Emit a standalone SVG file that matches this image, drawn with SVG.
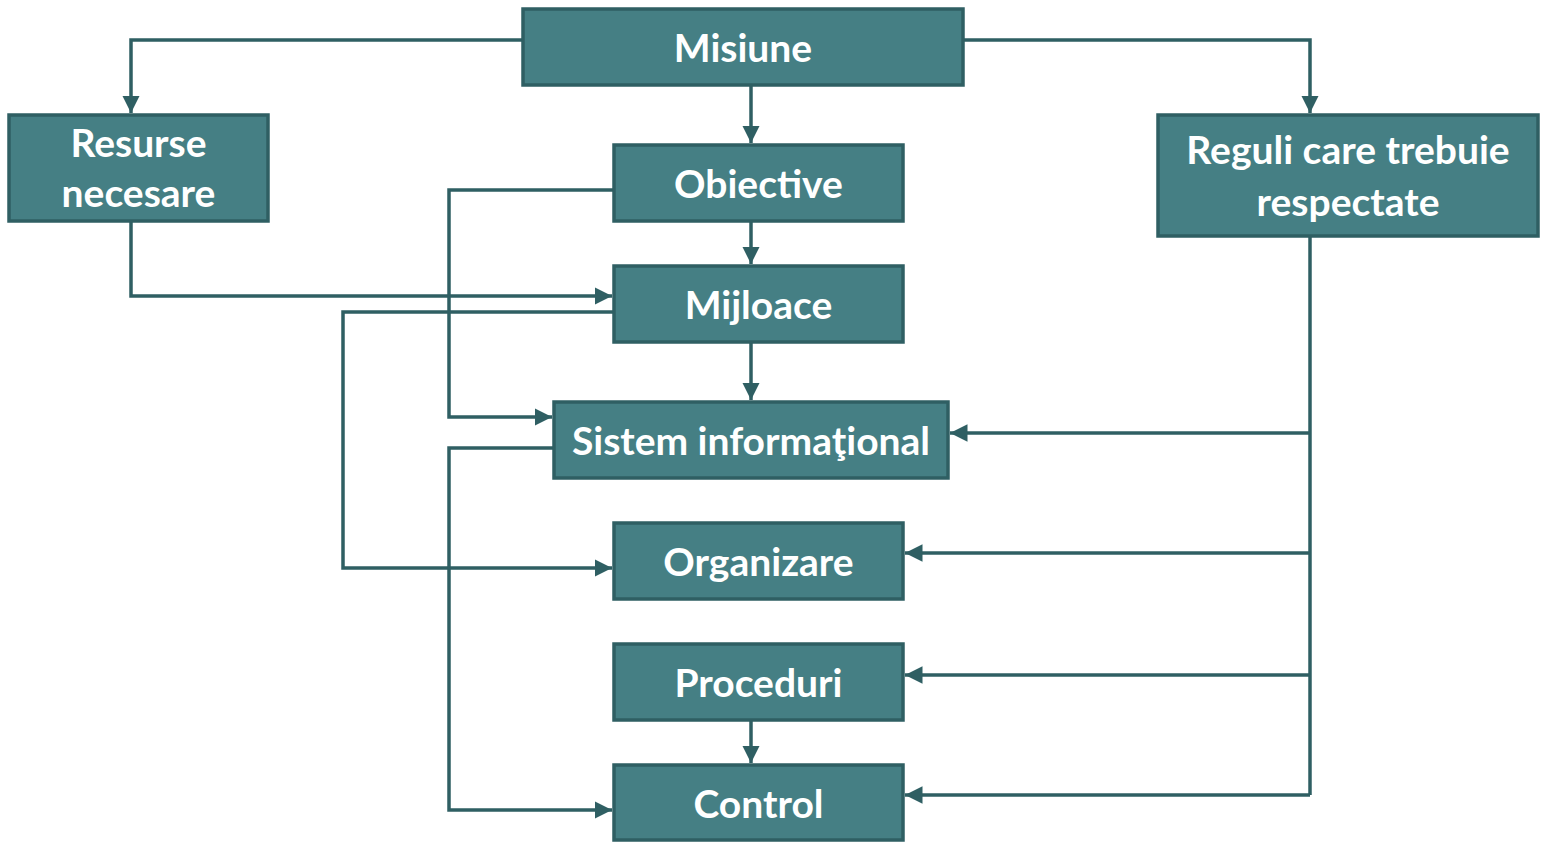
<svg xmlns="http://www.w3.org/2000/svg" width="1544" height="842" viewBox="0 0 1544 842">
<defs>
<style>
.box{fill:#457f84;stroke:#2f5f63;stroke-width:3.5}
.t{font-family:Lato,"Open Sans","Liberation Sans",sans-serif;font-weight:bold;font-size:39px;fill:#ffffff;text-anchor:middle}
.c{fill:none;stroke:#2f5f63;stroke-width:3.5;stroke-linejoin:miter}
</style>
<marker id="ah" viewBox="0 0 10 10" refX="10" refY="5" markerWidth="5" markerHeight="5" orient="auto" markerUnits="strokeWidth">
<path d="M0,0 L10,5 L0,10 z" fill="#2f5f63"/>
</marker>
</defs>
<rect width="1544" height="842" fill="#ffffff"/>
<g id="connectors">
<path class="c" d="M523,40 H131 V113" marker-end="url(#ah)"/>
<path class="c" d="M963,40 H1310 V113" marker-end="url(#ah)"/>
<path class="c" d="M751,85 V143" marker-end="url(#ah)"/>
<path class="c" d="M751,221 V264" marker-end="url(#ah)"/>
<path class="c" d="M751,342 V400" marker-end="url(#ah)"/>
<path class="c" d="M751,720 V763" marker-end="url(#ah)"/>
<path class="c" d="M131,221 V296 H612" marker-end="url(#ah)"/>
<path class="c" d="M614,190 H449 V417 H552" marker-end="url(#ah)"/>
<path class="c" d="M614,312 H343 V568 H612" marker-end="url(#ah)"/>
<path class="c" d="M554,448 H449 V810 H612" marker-end="url(#ah)"/>
<path class="c" d="M1310,236 V795"/>
<path class="c" d="M1310,433 H950" marker-end="url(#ah)"/>
<path class="c" d="M1310,553 H905" marker-end="url(#ah)"/>
<path class="c" d="M1310,675 H905" marker-end="url(#ah)"/>
<path class="c" d="M1310,795 H905" marker-end="url(#ah)"/>
</g>
<g id="misiune"><rect class="box" x="523" y="9" width="440" height="76"/><text class="t" x="743" y="62">Misiune</text></g>
<g id="resurse"><rect class="box" x="9" y="115" width="259" height="106"/><text class="t" x="138.5" y="157">Resurse</text><text class="t" x="138.5" y="207">necesare</text></g>
<g id="reguli"><rect class="box" x="1158" y="115" width="380" height="121"/><text class="t" x="1348" y="164">Reguli care trebuie</text><text class="t" x="1348" y="216">respectate</text></g>
<g id="obiective"><rect class="box" x="614" y="145" width="289" height="76"/><text class="t" x="758.5" y="198">Obiective</text></g>
<g id="mijloace"><rect class="box" x="614" y="266" width="289" height="76"/><text class="t" x="758.5" y="319">Mijloace</text></g>
<g id="sistem"><rect class="box" x="554" y="402" width="394" height="76"/><text class="t" x="751" y="455">Sistem informaţional</text></g>
<g id="organizare"><rect class="box" x="614" y="523" width="289" height="76"/><text class="t" x="758.5" y="576">Organizare</text></g>
<g id="proceduri"><rect class="box" x="614" y="644" width="289" height="76"/><text class="t" x="758.5" y="697">Proceduri</text></g>
<g id="control"><rect class="box" x="614" y="765" width="289" height="75"/><text class="t" x="758.5" y="818">Control</text></g>
</svg>
